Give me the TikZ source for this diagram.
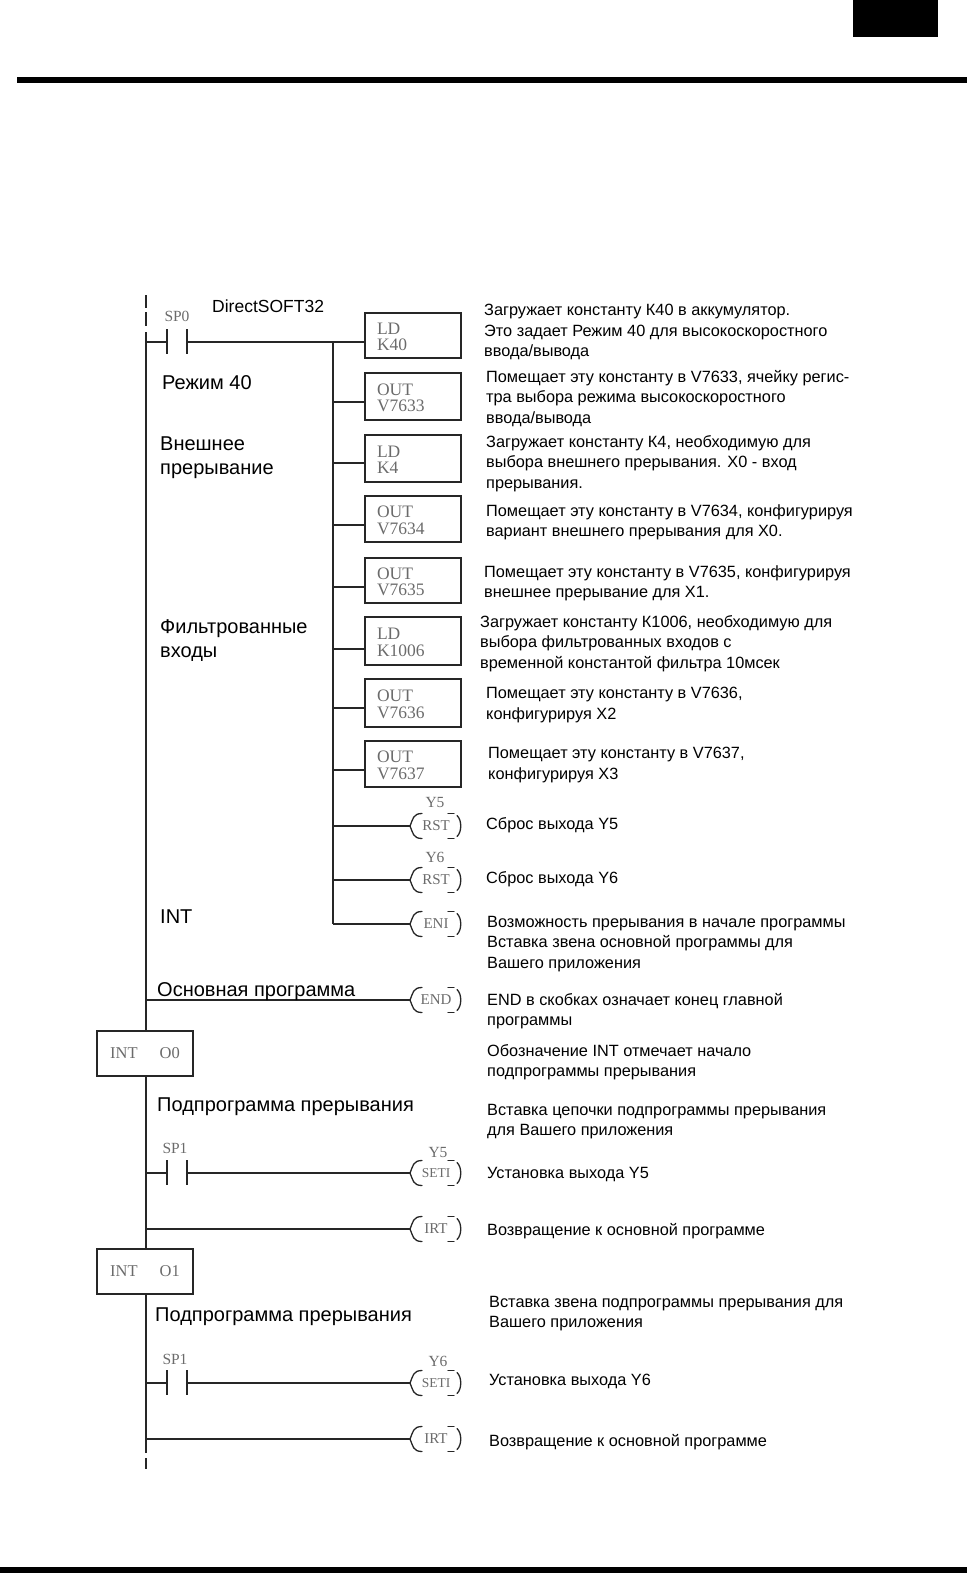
\documentclass[tikz,border=0pt]{standalone}
\usepackage{fontspec}
\setmainfont{Liberation Sans}
\newfontfamily\serifblk{Liberation Serif}
\usetikzlibrary{calc}
\definecolor{blk}{gray}{0.42}
\definecolor{ln}{gray}{0.15}
\newcommand\boxlines[2]{\raisebox{-7.1pt}[0pt][0pt]{#1}\\\raisebox{-7.1pt}[0pt][0pt]{#2}}
\tikzset{
 wire/.style={draw=ln,line width=1.5pt},
 arcline/.style={draw=ln,line width=1.3pt,line cap=round},
 box/.style={draw=ln,line width=1.5pt,minimum width=96pt,inner sep=0pt,outer sep=0pt,anchor=north west,align=left,text width=72pt,font=\serifblk\fontsize{17.5}{16.5}\selectfont,text=blk},
 intbox/.style={draw=ln,line width=1.5pt,minimum width=96pt,minimum height=45pt,inner sep=0pt,outer sep=0pt,anchor=north west,text=blk,font=\serifblk\fontsize{16.5}{16.5}\selectfont},
 coil/.style={minimum width=52pt,minimum height=25pt,inner sep=0pt,outer sep=0pt,text=blk,font=\serifblk\fontsize{15}{15}\selectfont},
 lab/.style={anchor=north west,inner sep=0pt,font=\fontsize{20}{24}\selectfont,align=left},
 dsc/.style={anchor=north west,inner sep=0pt,font=\fontsize{16.3}{20.5}\selectfont,align=left},
 glab/.style={inner sep=0pt,text=blk,font=\serifblk\fontsize{15.5}{15.5}\selectfont}
}
\begin{document}
\begin{tikzpicture}[x=1pt,y=-1pt]
\useasboundingbox (0,0) rectangle (967,1573);
% page furniture
\fill[black] (853,0) rectangle (938,37);
\fill[black] (17,77) rectangle (967,83);
\fill[black] (0,1567) rectangle (967,1573);
% rail coordinates
\coordinate (railtop) at (146,295);
\coordinate (railbot) at (146,1469);
\coordinate (bust) at (333,342);
\coordinate (busb) at (333,924);
% boxes
\node[box,minimum height=45pt] (b1) at (365,313) {\boxlines{LD}{K40}};
\node[box,minimum height=47pt] (b2) at (365,373) {\boxlines{OUT}{V7633}};
\node[box,minimum height=47pt] (b3) at (365,435) {\boxlines{LD}{K4}};
\node[box,minimum height=46pt] (b4) at (365,496) {\boxlines{OUT}{V7634}};
\node[box,minimum height=45pt] (b5) at (365,558) {\boxlines{OUT}{V7635}};
\node[box,minimum height=48pt] (b6) at (365,617) {\boxlines{LD}{K1006}};
\node[box,minimum height=48pt] (b7) at (365,679) {\boxlines{OUT}{V7636}};
\node[box,minimum height=46pt] (b8) at (365,741) {\boxlines{OUT}{V7637}};
% coils
\node[coil] (c1) at (436,826) {RST};
\node[coil] (c2) at (436,880) {RST};
\node[coil] (c3) at (436,924) {ENI};
\node[coil] (c4) at (436,1000) {END};
\node[coil] (c5) at (436,1173) {\fontsize{13.5}{13.5}\selectfont SETI};
\node[coil] (c6) at (436,1229) {IRT};
\node[coil] (c7) at (436,1383) {\fontsize{13.5}{13.5}\selectfont SETI};
\node[coil] (c8) at (436,1439) {IRT};
\foreach \c in {c1,c2,c3,c4,c5,c6,c7,c8}{
 \draw[arcline] ($(\c.north west)+(12,0)$) .. controls ($(\c.north west)+(3,0)$) and ($(\c.west)+(3,-7)$) .. (\c.west)
   .. controls ($(\c.west)+(3,7)$) and ($(\c.south west)+(3,0)$) .. ($(\c.south west)+(12,0)$);
 \draw[arcline] ($(\c.north east)+(-14,0)$) -- ($(\c.north east)+(-8,0)$);
 \draw[arcline] ($(\c.north east)+(-5,2)$) .. controls ($(\c.east)+(0,-6)$) and ($(\c.east)+(0,6)$) .. ($(\c.south east)+(-5,-2)$);
 \draw[arcline] ($(\c.south east)+(-14,0)$) -- ($(\c.south east)+(-8,0)$);
}
\node[glab] (y5a) at (435,802) {Y5};
\node[glab] (y6a) at (435,857) {Y6};
\node[glab] (y5b) at (438,1152) {Y5};
\node[glab] (y6b) at (438,1361) {Y6};
% INT boxes
\node[intbox] (i0) at (97,1031) {INT\hspace{22pt}O0};
\node[intbox] (i1) at (97,1249) {INT\hspace{22pt}O1};
% contacts
\coordinate (k1l) at (167,342);
\coordinate (k1r) at (187,342);
\coordinate (k2l) at (167,1173);
\coordinate (k2r) at (187,1173);
\coordinate (k3l) at (167,1383);
\coordinate (k3r) at (187,1383);
\node[glab] (sp0) at (177,316) {SP0};
\node[glab] (sp1) at (175,1148) {SP1};
\node[glab] (sp1b) at (175,1359) {SP1};
% rails
\draw[wire] (railtop) -- (146,308);
\draw[wire] (146,312) -- (146,326);
\draw[wire] (146,332) -- (i0.north -| railtop);
\draw[wire] (i0.south -| railtop) -- (i1.north -| railtop);
\draw[wire] (i1.south -| railtop) -- (146,1453);
\draw[wire] (146,1458) -- (railbot);
% contacts bars and rungs
\foreach \n in {k1,k2,k3}{
 \draw[wire] ($(\n l)+(0,-13)$) -- ($(\n l)+(0,12)$);
 \draw[wire] ($(\n r)+(0,-13)$) -- ($(\n r)+(0,12)$);
 \draw[wire] (\n l -| railtop) -- (\n l);
}
\draw[wire] (k1r) -- (k1r -| b1.west);
\draw[wire] (k2r) -- (k2r -| c5.west);
\draw[wire] (k3r) -- (k3r -| c7.west);
\draw[wire] (bust) -- (busb);
\foreach \b/\s in {b2/5.5,b3/4.5,b4/6,b5/6.5,b6/8,b7/5,b8/6}{
 \draw[wire] ([yshift=-\s pt]\b.west) -- ([yshift=-\s pt]\b.west -| bust);
}
\foreach \c in {c1,c2,c3}{
 \draw[wire] (\c.west) -- (\c.west -| bust);
}
\foreach \c in {c4,c6,c8}{
 \draw[wire] (\c.west) -- (\c.west -| railtop);
}
% left labels
\node[anchor=base west,inner sep=0pt,font=\fontsize{17.5}{20}\selectfont] (t0) at (212,312) {DirectSOFT32};
\node[lab] (t1) at (162,375) {Режим 40};
\node[lab] (t2) at (160,437) {Внешнее\\прерывание};
\node[lab] (t3) at (160,619.5) {Фильтрованные\\входы};
\node[lab] (t4) at (160,910) {INT};
\node[lab] (t5) at (157,982) {Основная программа};
\node[lab] (t6) at (157,1098) {Подпрограмма прерывания};
\node[lab] (t7) at (155,1308) {Подпрограмма прерывания};
% descriptions
\node[dsc] (d1) at (484,304) {Загружает константу К40 в аккумулятор.\\Это задает Режим 40 для высокоскоростного\\ввода/вывода};
\node[dsc] (d2) at (486,370) {Помещает эту константу в V7633, ячейку регис-\\тра выбора режима высокоскоростного\\ввода/вывода};
\node[dsc] (d3) at (486,435) {Загружает константу К4, необходимую для\\выбора внешнего прерывания. X0 - вход\\прерывания.};
\node[dsc] (d4) at (486,504) {Помещает эту константу в V7634, конфигурируя\\вариант внешнего прерывания для X0.};
\node[dsc] (d5) at (484,565) {Помещает эту константу в V7635, конфигурируя\\внешнее прерывание для X1.};
\node[dsc] (d6) at (480,615) {Загружает константу К1006, необходимую для\\выбора фильтрованных входов с\\временной константой фильтра 10мсек};
\node[dsc] (d7) at (486,687) {Помещает эту константу в V7636,\\конфигурируя X2};
\node[dsc] (d8) at (488,747) {Помещает эту константу в V7637,\\конфигурируя X3};
\node[dsc] (d9) at (486,817) {Сброс выхода Y5};
\node[dsc] (d10) at (486,871) {Сброс выхода Y6};
\node[dsc] (d11) at (487,916) {Возможность прерывания в начале программы\\Вставка звена основной программы для\\Вашего приложения};
\node[dsc] (d12) at (487,993) {END в скобках означает конец главной\\программы};
\node[dsc] (d13) at (487,1044) {Обозначение INT отмечает начало\\подпрограммы прерывания};
\node[dsc] (d14) at (487,1104) {Вставка цепочки подпрограммы прерывания\\для Вашего приложения};
\node[dsc] (d15) at (487,1167) {Установка выхода Y5};
\node[dsc] (d16) at (487,1223) {Возвращение к основной программе};
\node[dsc] (d17) at (489,1296) {Вставка звена подпрограммы прерывания для\\Вашего приложения};
\node[dsc] (d18) at (489,1374) {Установка выхода Y6};
\node[dsc] (d19) at (489,1434) {Возвращение к основной программе};
\end{tikzpicture}
\end{document}
